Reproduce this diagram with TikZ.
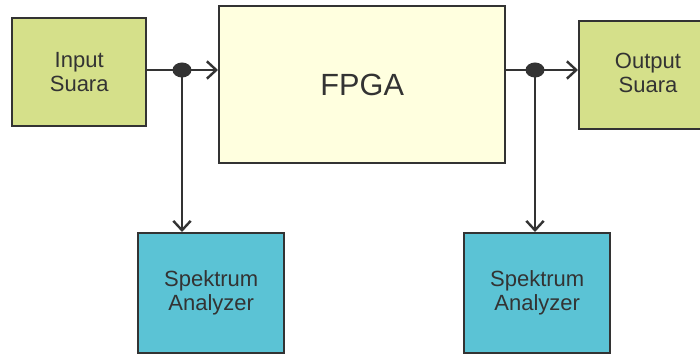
\documentclass[tikz,border=0pt]{standalone}
\usepackage{fontspec}
\setmainfont{Liberation Sans}
\usetikzlibrary{arrows.meta,calc}
\definecolor{boxgreen}{HTML}{D5E08A}
\definecolor{fpgafill}{HTML}{FFFFDF}
\definecolor{boxcyan}{HTML}{5BC3D5}
\definecolor{ink}{HTML}{333333}
\tikzset{
  blk/.style={draw=ink, line width=1.8pt, anchor=north west, inner sep=0pt,
    align=center, text=ink, font=\fontsize{16.5pt}{18pt}\selectfont},
  greenbox/.style={blk, fill=boxgreen, minimum width=134*0.75pt, minimum height=108*0.75pt},
  cyanbox/.style={blk, fill=boxcyan, minimum width=146*0.75pt, minimum height=120*0.75pt},
  conn/.style={draw=ink, line width=1.8pt},
  arr/.style={conn, -{Straight Barb[length=7pt,width=13pt,line width=1.8pt]}},
  dotstyle/.style={fill=ink, draw=none}
}
\begin{document}
\begin{tikzpicture}[x=0.75pt,y=-0.75pt]
\useasboundingbox (0,0) rectangle (700,356);
\clip (0,0) rectangle (700,356);
\fill[white] (0,0) rectangle (700,356);
\node[greenbox] (inp) at (11,17) {Input\\Suara};
\node[blk, fill=fpgafill, minimum width=286*0.75pt, minimum height=157*0.75pt,
  font=\fontsize{23pt}{26pt}\selectfont] (fpga) at (218,5) {FPGA};
\node[greenbox, minimum width=145*0.75pt] (out) at (578,20) {};
\node[text=ink, font=\fontsize{16.5pt}{18pt}\selectfont, align=center] (outtxt) at (648,73) {Output\\Suara};
\node[cyanbox] (sa1) at (137,232) {Spektrum\\Analyzer};
\node[cyanbox] (sa2) at (463,232) {Spektrum\\Analyzer};
\coordinate (j1) at (182,70);
\coordinate (j2) at (535,70);
\draw[conn] (inp.east |- j1) -- (j1);
\draw[arr] (j1) -- (fpga.west |- j1);
\draw[arr] (j1) -- (sa1.north -| j1);
\draw[conn] (fpga.east |- j2) -- (j2);
\draw[arr] (j2) -- (out.west |- j2);
\draw[arr] (j2) -- (sa2.north -| j2);
\fill[dotstyle] (j1) ellipse [x radius=9.5, y radius=7.5];
\fill[dotstyle] (j2) ellipse [x radius=9.5, y radius=7.5];
\end{tikzpicture}
\end{document}
